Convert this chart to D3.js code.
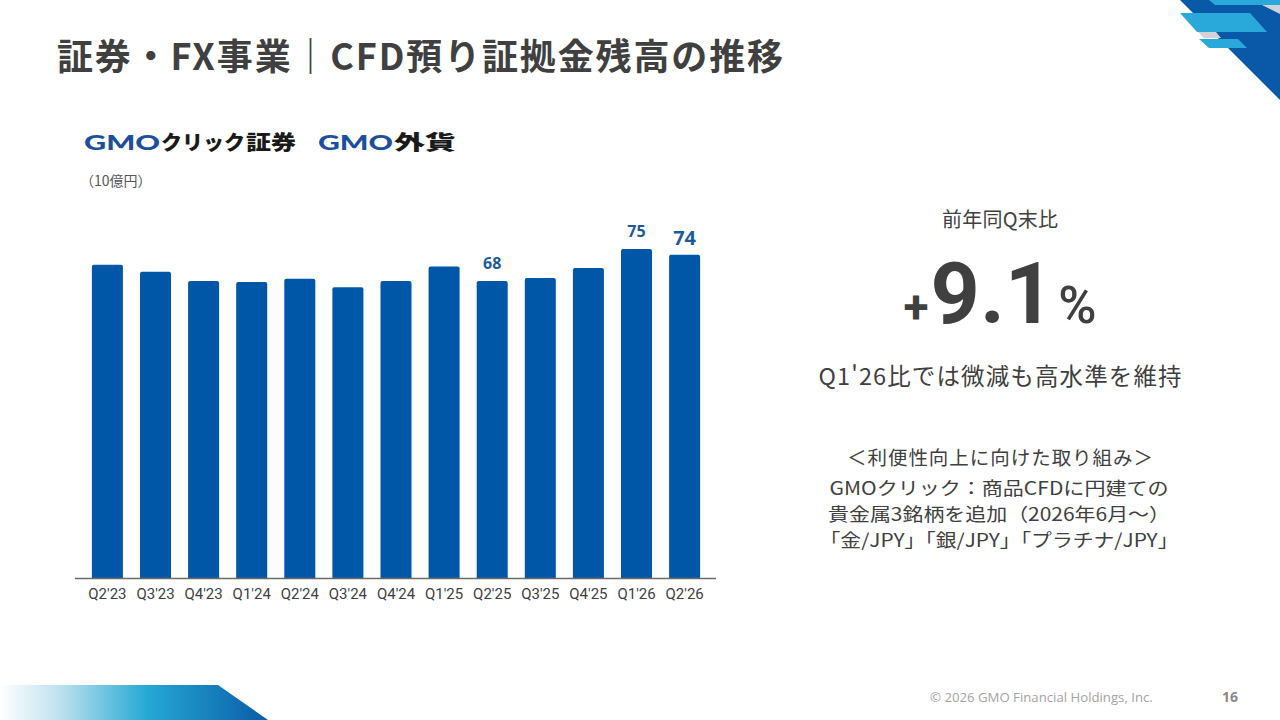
<!DOCTYPE html>
<html lang="ja">
<head>
<meta charset="utf-8">
<script src="https://cdn.jsdelivr.net/npm/d3@7"></script>
<style>
  html, body { margin: 0; padding: 0; background: #fff; }
  svg { display: block; font-family: "Noto Sans CJK JP", "Noto Sans", sans-serif; }
</style>
</head>
<body>
<div id="chart"></div>
<script>
// Quarter-end CFD margin deposits (10 billion yen)
const quarters = ["Q2'23", "Q3'23", "Q4'23", "Q1'24", "Q2'24", "Q3'24", "Q4'24",
  "Q1'25", "Q2'25", "Q3'25", "Q4'25", "Q1'26", "Q2'26"];
const balances = [71.7, 70.1, 68.0, 67.8, 68.5, 66.6, 68.0, 71.3, 68.0, 68.7, 71.0, 75.3, 74.0];
// only some bars carry a value label
const valueLabels = [null, null, null, null, null, null, null, null, "68", null, null, "75", "74"];

const yoyText = "9.1";
const noteLines = [
  "GMOクリック：商品CFDに円建ての",
  "貴金属3銘柄を追加（2026年6月～）",
  "「金/JPY」「銀/JPY」「プラチナ/JPY」"
];

const W = 1280, H = 720;
const textColor = "#404040";
const barColor = "#0057a8";

const svg = d3
  .select("#chart")
  .append("svg")
  .attr("width", W)
  .attr("height", H);

// decorations
const defs = svg.append("defs");
const grad = defs.append("linearGradient").attr("id", "band").attr("x1", 0).attr("x2", 1);
grad.append("stop").attr("offset", "0%").attr("stop-color", "#ffffff");
grad.append("stop").attr("offset", "22%").attr("stop-color", "#bfe2ef");
grad.append("stop").attr("offset", "55%").attr("stop-color", "#25a8d4");
grad.append("stop").attr("offset", "100%").attr("stop-color", "#0a5ca8");

svg.append("polygon")
  .attr("points", "0,685 218,685 268,720 0,720")
  .attr("fill", "url(#band)");

svg.append("polygon").attr("points", "1180,0 1280,0 1280,100").attr("fill", "#0a58a8");
svg.append("polygon").attr("points", "1262,5 1280,5 1280,14").attr("fill", "#cfd3d8");
svg.append("polygon").attr("points", "1198,32 1216,32 1221,38 1204,38").attr("fill", "#cfd3d8");
svg.append("polygon").attr("points", "1209,0 1280,0 1280,5 1215,5").attr("fill", "#29a9da");
svg.append("polygon").attr("points", "1180,13 1250,13 1267,32 1197,32").attr("fill", "#29a9da");
svg.append("polygon").attr("points", "1199,39 1238,39 1247,48 1209,48").attr("fill", "#29a9da");

// title
svg.append("text")
  .attr("x", 57)
  .attr("y", 70)
  .attr("fill", textColor)
  .attr("font-size", 36)
  .attr("font-weight", 700)
  .attr("textLength", 726)
  .attr("lengthAdjust", "spacing")
  .text("証券・FX事業｜CFD預り証拠金残高の推移");

// logos (drawn as text)
const logo = (x, parts) => {
  let cx = x;
  parts.forEach(p => {
    svg.append("text")
      .attr("x", cx)
      .attr("y", 150)
      .attr("fill", p.color)
      .attr("font-size", p.size)
      .attr("font-weight", 900)
      .attr("font-family", p.font)
      .attr("textLength", p.w)
      .attr("lengthAdjust", "spacingAndGlyphs")
      .text(p.t);
    cx += p.w + 1;
  });
};
logo(84, [
  { t: "GMO", w: 76, size: 20, color: "#1d4f9f", font: "Lato, sans-serif" },
  { t: "クリック", w: 84, size: 20, color: "#1a1a1a", font: "Noto Sans CJK JP" },
  { t: "証券", w: 50, size: 20, color: "#1a1a1a", font: "Noto Sans CJK JP" }
]);
logo(318, [
  { t: "GMO", w: 75, size: 20, color: "#1d4f9f", font: "Lato, sans-serif" },
  { t: "外貨", w: 62, size: 20, color: "#1a1a1a", font: "Noto Sans CJK JP" }
]);

svg.append("text")
  .attr("x", 80)
  .attr("y", 186)
  .attr("fill", "#555")
  .attr("font-size", 14)
  .text("（10億円）");

// chart
const baseY = 578.5;
const x = d3.scaleBand()
  .domain(quarters)
  .range([76, 716])
  .paddingInner(0.355)
  .paddingOuter(0.33);
const y = d3.scaleLinear()
  .domain([0, 80])
  .range([baseY, baseY - 80 * 4.375]);

svg.selectAll(".bar")
  .data(balances)
  .enter()
  .append("path")
  .attr("class", "bar")
  .attr("fill", barColor)
  .attr("d", (d, i) => {
    const x0 = x(quarters[i]), w = x.bandwidth(), top = y(d), r = 2;
    return `M${x0},${baseY}V${top + r}Q${x0},${top} ${x0 + r},${top}` +
      `H${x0 + w - r}Q${x0 + w},${top} ${x0 + w},${top + r}V${baseY}Z`;
  });

// value labels for the flagged bars
const labelled = balances
  .map((v, i) => ({ q: quarters[i], v, label: valueLabels[i], last: i === balances.length - 1 }))
  .filter(d => d.label !== null);

svg.selectAll(".val")
  .data(labelled)
  .enter()
  .append("text")
  .attr("class", "val")
  .attr("x", d => x(d.q) + x.bandwidth() / 2)
  .attr("y", d => y(d.v) - (d.last ? 10 : 12))
  .attr("text-anchor", "middle")
  .attr("fill", "#1d5a9c")
  .attr("font-family", "'Open Sans', sans-serif")
  .attr("font-weight", 700)
  .attr("font-size", d => (d.last ? 20 : 16))
  .text(d => d.label);

const xAxis = d3.axisBottom(x).tickSize(0).tickPadding(10);
const gx = svg.append("g")
  .attr("transform", `translate(0, ${baseY})`)
  .call(xAxis);
gx.select(".domain").attr("stroke", "#6b6b6b").attr("stroke-width", 1.5).attr("d", "M75,0H716");
gx.selectAll("text")
  .attr("fill", textColor)
  .attr("font-family", "Roboto, sans-serif")
  .attr("font-size", 15);

// right panel
const cx = 1000;
svg.append("text")
  .attr("x", cx).attr("y", 227)
  .attr("text-anchor", "middle")
  .attr("fill", textColor)
  .attr("font-size", 20)
  .attr("textLength", 116)
  .attr("lengthAdjust", "spacing")
  .text("前年同Q末比");

const big = svg.append("text")
  .attr("x", cx).attr("y", 323)
  .attr("text-anchor", "middle")
  .attr("fill", textColor)
  .attr("font-family", "Roboto, sans-serif")
  .attr("font-weight", 700);
big.append("tspan").attr("font-size", 46).text("+");
big.append("tspan").attr("font-size", 86).attr("dx", 2).text(yoyText);
big.append("tspan").attr("font-size", 52).attr("dx", 4).attr("font-weight", 500).text("%");

svg.append("text")
  .attr("x", cx).attr("y", 385)
  .attr("text-anchor", "middle")
  .attr("fill", textColor)
  .attr("font-size", 23.5)
  .attr("textLength", 363)
  .attr("lengthAdjust", "spacing")
  .text("Q1'26比では微減も高水準を維持");

svg.append("text")
  .attr("x", cx).attr("y", 465)
  .attr("text-anchor", "middle")
  .attr("fill", textColor)
  .attr("font-size", 19.5)
  .attr("textLength", 306)
  .attr("lengthAdjust", "spacing")
  .text("＜利便性向上に向けた取り組み＞");

// note lines: slightly widened glyphs to reach the reference line widths
const noteWidths = [339, 342, 359];
svg.selectAll(".note")
  .data(noteLines)
  .enter()
  .append("text")
  .attr("class", "note")
  .attr("x", 999)
  .attr("y", (d, i) => 495 + i * 26.2)
  .attr("text-anchor", "middle")
  .attr("fill", textColor)
  .attr("font-size", 18)
  .attr("textLength", (d, i) => noteWidths[i])
  .attr("lengthAdjust", "spacingAndGlyphs")
  .text(d => d);

// footer
svg.append("text")
  .attr("x", 930).attr("y", 702)
  .attr("fill", "#a3a3a3")
  .attr("font-family", "'Open Sans', sans-serif")
  .attr("font-size", 13.2)
  .text("© 2026 GMO Financial Holdings, Inc.");
svg.append("text")
  .attr("x", 1222).attr("y", 702)
  .attr("fill", "#8a8a8a")
  .attr("font-family", "'Open Sans', sans-serif")
  .attr("font-weight", 700)
  .attr("font-size", 14)
  .text("16");
</script>
</body>
</html>
